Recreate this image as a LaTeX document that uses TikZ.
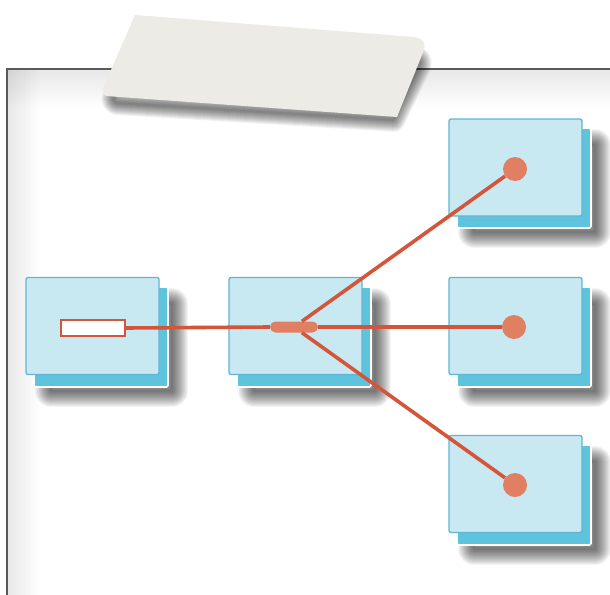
\documentclass[tikz,border=0pt]{standalone}
\usetikzlibrary{fadings,shapes.misc}
\definecolor{paperline}{HTML}{5A5A5A}
\definecolor{tapefill}{HTML}{ECEBE6}
\definecolor{cardfront}{HTML}{C8E9F1}
\definecolor{cardedge}{HTML}{62B4D2}
\definecolor{cardback}{HTML}{5EC4DD}
\definecolor{wire}{HTML}{D5553A}
\definecolor{knob}{HTML}{E07F62}
\tikzfading[name=fadeleft, left color=transparent!0, right color=transparent!100]
\tikzfading[name=fadetop, top color=transparent!0, bottom color=transparent!100]
% soft shadow built from stacked translucent strokes, kept to the lower right
\newcommand\cardshade[1]{%
  \foreach \w in {2,4,...,32}{%
    \path[draw=black, draw opacity=0.042, line width=\w pt, line join=round]
      ([xshift=18pt,yshift=-18pt]#1.north west) rectangle ([xshift=3pt,yshift=-3pt]#1.south east);}}
\tikzset{
  tapeoutline/.style={insert path={(135,15) -- (414,37) .. controls (424,39) and (426,44) .. (424,50)
    -- (397,117) -- (106,96) .. controls (102,94) and (102,90) .. (104,86) -- cycle}},
  cardback/.style={draw=white, line width=1.6pt, fill=cardback,
    minimum width=134pt, minimum height=100pt, inner sep=0pt, rounded corners=1.5pt},
  cardfront/.style={draw=cardedge, line width=1.3pt, fill=cardfront,
    minimum width=133pt, minimum height=97pt, inner sep=0pt, rounded corners=2pt},
  knobdot/.style={circle, fill=knob, minimum size=24pt, inner sep=0pt},
  wireline/.style={draw=wire, line width=3.6pt},
  plug/.style={draw=wire, line width=2pt, fill=white, minimum width=64pt,
    minimum height=16pt, inner sep=0pt},
  hubbar/.style={rounded rectangle, fill=knob, minimum width=48pt,
    minimum height=11pt, inner sep=0pt}
}
\begin{document}
\begin{tikzpicture}[x=1pt,y=-1pt]
\useasboundingbox (0,0) rectangle (610,594);

% sheet of paper
\fill[white] (0,0) rectangle (610,594);
\fill[white] (7,69) rectangle (614,598);
\fill[black, fill opacity=0.09, path fading=fadetop] (8,70) rectangle (614,108);
\fill[black, fill opacity=0.09, path fading=fadeleft] (8,70) rectangle (40,598);
\draw[paperline, line width=2pt] (7,598) -- (7,69) -- (614,69);

% card positions (back sheets), shadows first
\path node[cardback, draw=none, fill=none] (lb) at (101,337) {}
      node[cardback, draw=none, fill=none] (mb) at (304,337) {}
      node[cardback, draw=none, fill=none] (tb) at (524,178) {}
      node[cardback, draw=none, fill=none] (rb) at (524,337) {}
      node[cardback, draw=none, fill=none] (bb) at (524,495) {};
\foreach \c in {lb,mb,tb,rb,bb}{\cardshade{\c}}

% cards: a darker sheet behind each pale one
\foreach \c in {lb,mb,tb,rb,bb}{\node[cardback] at (\c) {};}
\node[cardfront] (lf) at (92.5,326) {};
\node[cardfront] (mf) at (295.5,326) {};
\node[cardfront] (tf) at (515.5,167.5) {};
\node[cardfront] (rf) at (515.5,326) {};
\node[cardfront] (bf) at (515.5,484) {};

% strip of tape with its shadow
\begin{scope}[shift={(268,79)}, xscale=0.95, yscale=0.8, shift={(-265,-66)}]
  \foreach \w in {2,4,...,24}{%
    \path[draw=black, draw opacity=0.05, line width=\w pt, line join=round, tapeoutline];}
\end{scope}
\path[fill=tapefill, tapeoutline];

% plug, hub and end points
\node[plug] (src) at (93,328) {};
\node[hubbar] (hub) at (294,327) {};
\node[knobdot] (dtop) at (515,169) {};
\node[knobdot] (dmid) at (514,327) {};
\node[knobdot] (dbot) at (515,485) {};

% wires
\draw[wireline] (src.east) -- (hub.west);
\draw[wireline] (hub.east) -- (dmid.west);
\draw[wireline] (hub) -- (dtop);
\draw[wireline] (hub) -- (dbot);
\end{tikzpicture}
\end{document}
